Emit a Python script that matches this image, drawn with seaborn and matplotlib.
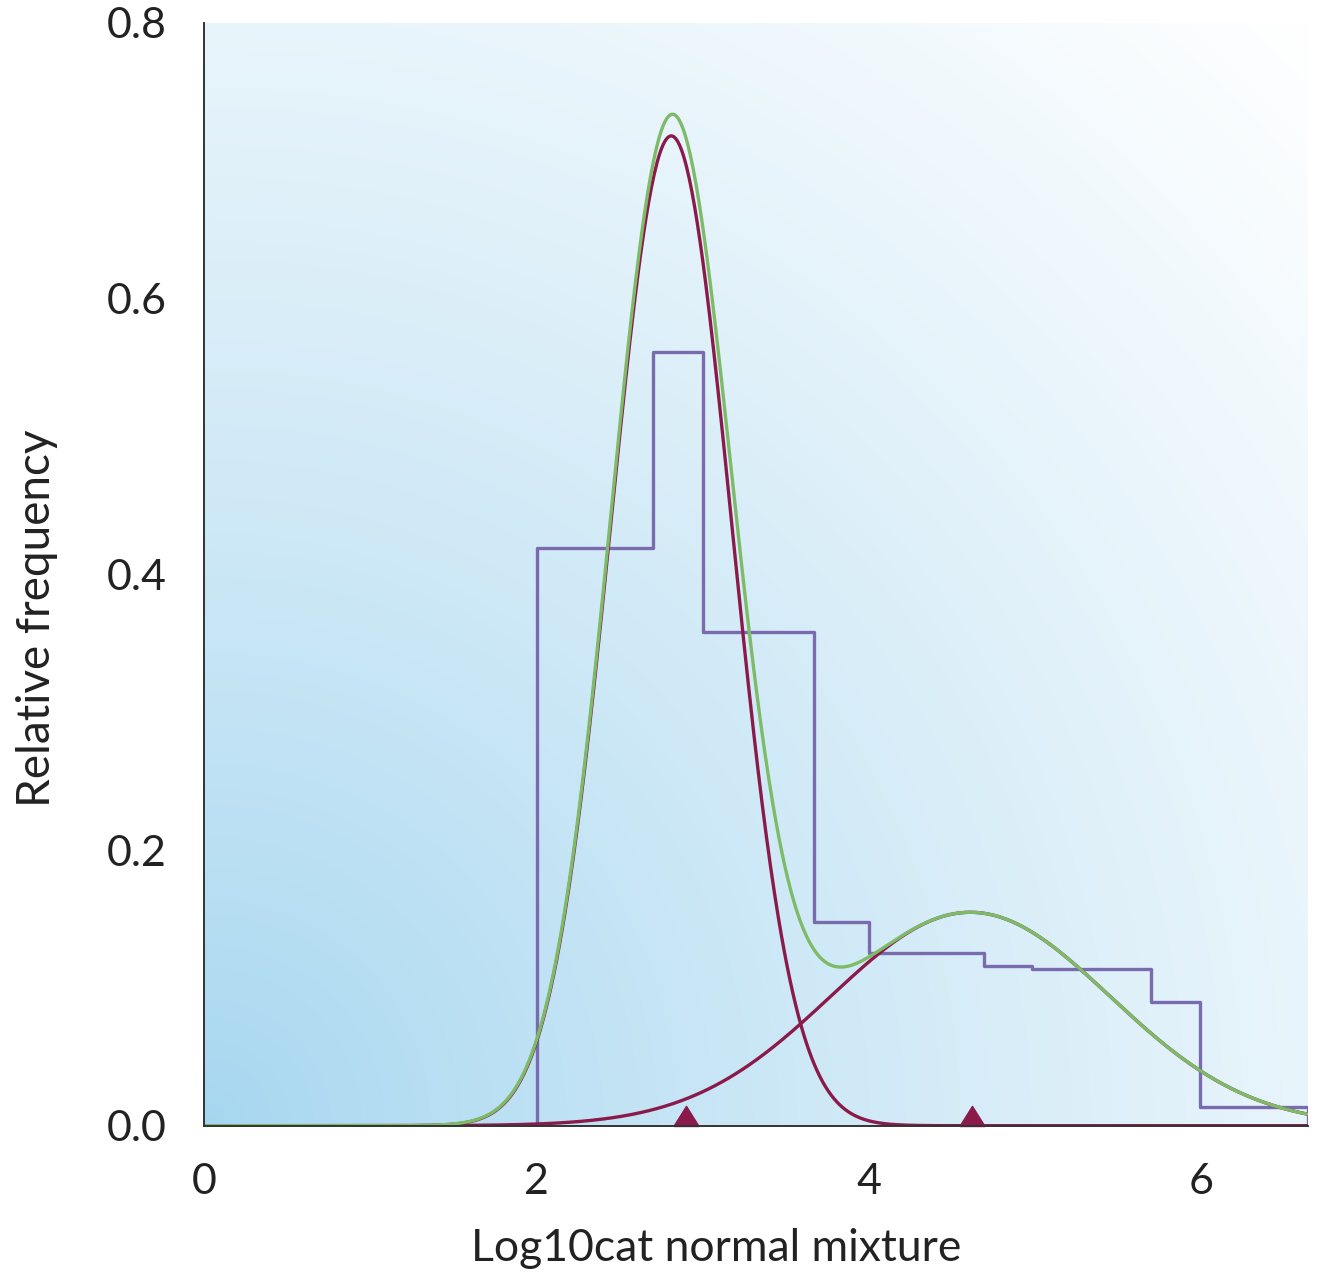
import numpy as np
import pandas as pd
import matplotlib
matplotlib.use("Agg")
import matplotlib.pyplot as plt
import seaborn as sns

# ---- data ----
bin_edges = [2.0, 2.70, 3.0, 3.67, 4.0, 4.69, 4.98, 5.70, 5.99, 6.64]
bin_heights = [0.419, 0.561, 0.358, 0.148, 0.1255, 0.116, 0.114, 0.090, 0.0138]
component_means = [2.81, 4.61]
component_sds = [0.365, 0.84]
component_weights = [0.657, 0.326]
marker_x = [2.90, 4.62]
x_ticks = [0, 2, 4, 6]
y_ticks = [0.0, 0.2, 0.4, 0.6, 0.8]
x_label = "Log10cat normal mixture"
y_label = "Relative frequency"

purple = "#7a6aae"
red = "#8a1a4a"
green = "#7dbb68"
axis_col = "#333333"

sns.set_theme(style="white")
plt.rcParams['font.family'] = ['Lato', 'DejaVu Sans']

fig = plt.figure(figsize=(13.2, 12.74), dpi=100)
ax = fig.add_axes([204.3 / 1320, (1274 - 1125.7) / 1274, 1103.4 / 1320, 1102.7 / 1274])

# background gradient (light blue at bottom-left fading to white at top-right)
n = 300
gx, gy = np.meshgrid(np.linspace(0, 1, n), np.linspace(1, 0, n))
t = np.clip(np.sqrt(gx ** 2 + gy ** 2) / np.sqrt(2), 0, 1) ** 0.85
c0 = np.array([0.65, 0.84, 0.94])
c1 = np.array([1.0, 1.0, 1.0])
img = c0[None, None, :] * (1 - t[..., None]) + c1[None, None, :] * t[..., None]
ax.imshow(img, extent=[0, 1, 0, 1], transform=ax.transAxes, aspect="auto", zorder=0, interpolation="bilinear")

# histogram (step outline)
centers = [(a + b) / 2 for a, b in zip(bin_edges[:-1], bin_edges[1:])]
sns.histplot(x=centers, weights=bin_heights, bins=bin_edges, element="step", fill=False,
             color=purple, linewidth=2.4, ax=ax, zorder=2)
ax.vlines([bin_edges[0], bin_edges[-1]], 0, [bin_heights[0], bin_heights[-1]],
          color=purple, linewidth=2.4, zorder=2)

# mixture curves
xg = np.linspace(0, bin_edges[-1], 800)
comps = []
for m, s, w in zip(component_means, component_sds, component_weights):
    comps.append(w / (s * np.sqrt(2 * np.pi)) * np.exp(-0.5 * ((xg - m) / s) ** 2))
for c in comps:
    sns.lineplot(x=xg, y=c, color=red, linewidth=2.4, ax=ax, zorder=3)
sns.lineplot(x=xg, y=np.sum(comps, axis=0), color=green, linewidth=2.4, ax=ax, zorder=4)

# triangle markers on the baseline
tri = [(-1, 0), (1, 0), (0, 1.6), (-1, 0)]
ax.plot(marker_x, [0] * len(marker_x), linestyle="none", marker=tri, markersize=29,
        color=red, zorder=5, clip_on=False)

ax.set_xlim(0, bin_edges[-1])
ax.set_ylim(0, 0.8)
ax.set_xticks(x_ticks)
ax.set_yticks(y_ticks)
ax.set_yticklabels([f"{v:.1f}" for v in y_ticks])
ax.tick_params(axis="both", direction="out", length=15, width=1.4, color=axis_col,
               labelsize=31, labelcolor="#222222")
ax.tick_params(axis="y", pad=12)
ax.tick_params(axis="x", pad=12)
for side in ["top", "right"]:
    ax.spines[side].set_visible(False)
for side in ["left", "bottom"]:
    ax.spines[side].set_color(axis_col)
    ax.spines[side].set_linewidth(1.4)
    ax.spines[side].set_zorder(6)

ax.set_xlabel(x_label, fontsize=32, color="#222222")
ax.set_ylabel(y_label, fontsize=33, color="#222222")
ax.xaxis.set_label_coords(0.4637, -0.093)
ax.yaxis.set_label_coords(-0.133, 0.4604)

fig.savefig("out.png", dpi=100)
